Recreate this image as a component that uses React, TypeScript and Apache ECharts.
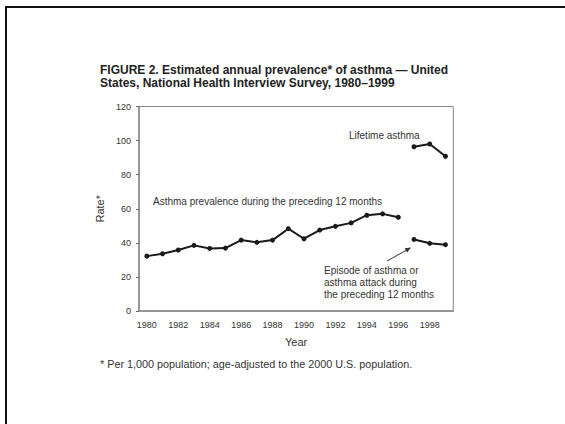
import React, { useEffect, useRef } from "react";
import * as echarts from "echarts";

const years = ["1980","1981","1982","1983","1984","1985","1986","1987","1988","1989","1990","1991","1992","1993","1994","1995","1996","1997","1998","1999"];
const prevalence12m = [32.2, 33.6, 35.8, 38.5, 36.7, 36.9, 41.6, 40.3, 41.6, 48.3, 42.4, 47.5, 49.7, 51.7, 56.2, 57.0, 55.0, null, null, null];
const lifetime = [null, null, null, null, null, null, null, null, null, null, null, null, null, null, null, null, null, 96.4, 98.0, 90.8];
const episode = [null, null, null, null, null, null, null, null, null, null, null, null, null, null, null, null, null, 42.0, 39.7, 38.9];

const FONT = "'Liberation Sans', Arial, Helvetica, sans-serif";
const LINE = "#1a1a1a";
const TXT = "#333";

export default function App() {
  const ref = useRef<HTMLDivElement>(null);
  useEffect(() => {
    document.body.style.margin = "0";
    const chart = echarts.init(ref.current!, null, { renderer: "svg" });
    const mkSeries = (name: string, data: (number | null)[]) => ({
      name,
      type: "line",
      data,
      symbol: "circle",
      symbolSize: 5,
      connectNulls: false,
      lineStyle: { color: LINE, width: 2 },
      itemStyle: { color: LINE },
    });
    chart.setOption({
      animation: false,
      backgroundColor: "#fff",
      textStyle: { fontFamily: FONT },
      title: {
        text: "FIGURE 2. Estimated annual prevalence* of asthma \u2014 United\nStates, National Health Interview Survey, 1980\u20131999",
        left: 100,
        top: 64,
        padding: 0,
        textStyle: { fontFamily: FONT, fontSize: 12, fontWeight: "bold", color: "#222", lineHeight: 12.7 },
      },
      grid: {
        left: 139,
        top: 106.5,
        right: 111.7,
        bottom: 113,
        show: true,
        borderColor: "#888",
        borderWidth: 1,
      },
      xAxis: {
        type: "category",
        data: years,
        boundaryGap: true,
        name: "Year",
        nameLocation: "middle",
        nameGap: 25,
        nameTextStyle: { fontFamily: FONT, fontSize: 11, color: TXT },
        axisLine: { lineStyle: { color: "#888", width: 1.5 } },
        axisTick: { alignWithLabel: true, interval: 0, length: 3, lineStyle: { color: "#666" } },
        axisLabel: { interval: 1, margin: 9, fontFamily: FONT, fontSize: 9, color: TXT },
        splitLine: { show: false },
      },
      yAxis: {
        type: "value",
        min: 0,
        max: 120,
        interval: 20,
        name: "Rate*",
        nameLocation: "middle",
        nameGap: 27,
        nameTextStyle: { fontFamily: FONT, fontSize: 11, color: TXT },
        axisLine: { show: true, lineStyle: { color: "#888", width: 1.5 } },
        axisTick: { show: true, length: 3, lineStyle: { color: "#666" } },
        axisLabel: { margin: 8, fontFamily: FONT, fontSize: 9, color: TXT },
        splitLine: { show: false },
      },
      series: [
        mkSeries("Asthma prevalence during the preceding 12 months", prevalence12m),
        mkSeries("Lifetime asthma", lifetime),
        mkSeries("Episode of asthma or asthma attack during the preceding 12 months", episode),
      ],
      graphic: [
        { type: "line", shape: { x1: 5, y1: 7, x2: 565, y2: 7 }, style: { stroke: "#111", lineWidth: 2 } },
        { type: "line", shape: { x1: 6, y1: 6, x2: 6, y2: 424 }, style: { stroke: "#111", lineWidth: 2 } },
        {
          type: "text", left: 153, top: 196,
          style: { text: "Asthma prevalence during the preceding 12 months", font: `10px ${FONT}`, fill: TXT },
        },
        {
          type: "text", left: 349, top: 130,
          style: { text: "Lifetime asthma", font: `10px ${FONT}`, fill: TXT },
        },
        {
          type: "text", left: 324, top: 264,
          style: {
            text: "Episode of asthma or\nasthma attack during\nthe preceding 12 months",
            font: `10px ${FONT}`, fill: TXT, lineHeight: 12,
          },
        },
        { type: "line", shape: { x1: 387, y1: 261, x2: 406, y2: 250.4 }, style: { stroke: "#333", lineWidth: 1 } },
        { type: "polygon", shape: { points: [[411, 247.5], [407.1, 252.6], [404.6, 248.2]] }, style: { fill: "#333" } },
        {
          type: "text", left: 100, top: 358,
          style: { text: "* Per 1,000 population; age-adjusted to the 2000 U.S. population.", font: `10.8px ${FONT}`, fill: TXT },
        },
      ],
    });
    return () => chart.dispose();
  }, []);
  return <div ref={ref} style={{ width: 565, height: 424 }} />;
}
